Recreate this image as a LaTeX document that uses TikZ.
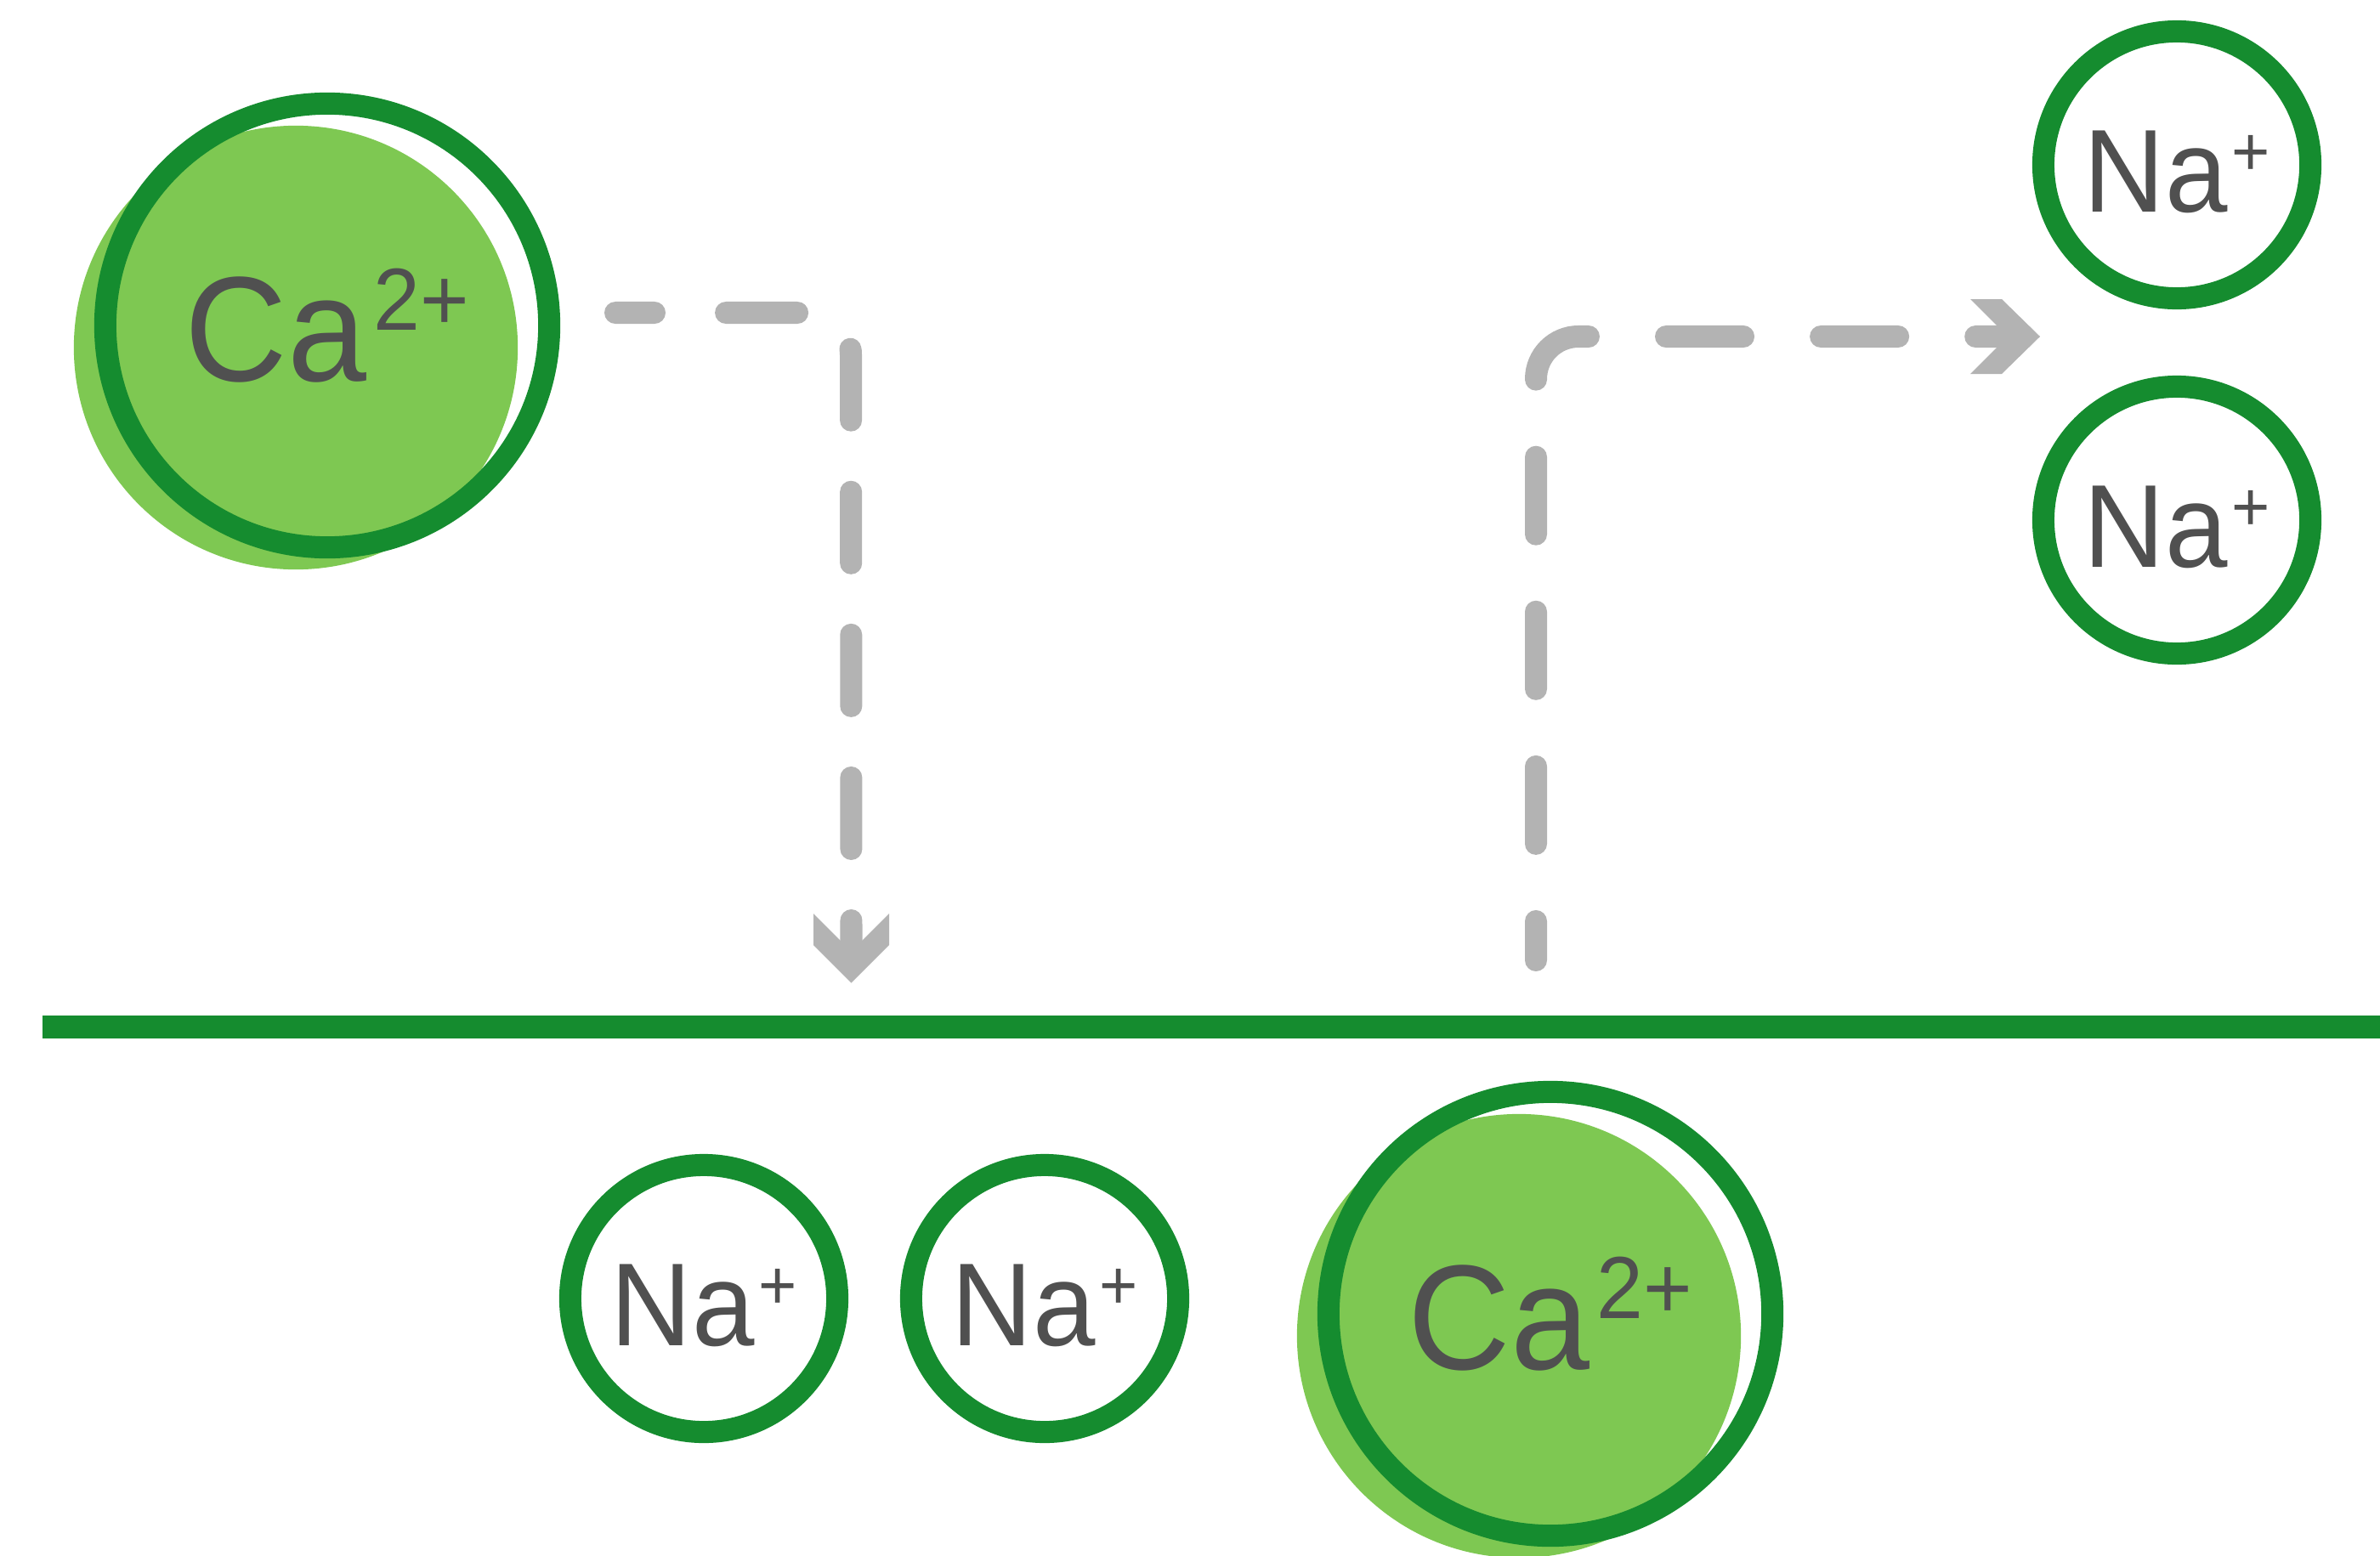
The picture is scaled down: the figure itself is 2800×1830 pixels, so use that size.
\documentclass[tikz,border=0pt]{standalone}
\usepackage{fontspec}
\setmainfont{Liberation Sans}[FakeStretch=0.95]
\usetikzlibrary{calc}
\definecolor{dkgreen}{HTML}{158C2F}
\definecolor{ltgreen}{HTML}{7EC852}
\definecolor{dashgray}{HTML}{B3B3B3}
\definecolor{txtgray}{HTML}{505050}
\newcommand{\CaTxt}{{\fontsize{50pt}{60pt}\selectfont Ca\kern2.4pt\raisebox{17pt}{\fontsize{29.5pt}{35pt}\selectfont 2+}}}
\newcommand{\NaTxt}{{\fontsize{39.5pt}{47pt}\selectfont \rule{0pt}{32pt}Na\kern1.3pt\smash{\raisebox{12.2pt}{\fontsize{23.2pt}{28pt}\selectfont +}}}}
\tikzset{
  nabox/.style={circle, draw=dkgreen, line width=0.26cm, minimum size=3.14cm, inner sep=0pt, text=txtgray},
  cabox/.style={circle, draw=dkgreen, line width=0.26cm, minimum size=5.22cm, inner sep=0pt, text=txtgray},
  cafill/.style={circle, fill=ltgreen, minimum size=5.22cm, inner sep=0pt},
  flowline/.style={draw=dashgray, line width=0.26cm, line cap=round, rounded corners=0.5cm},
  chevron/.style={fill=dashgray},
  membrane/.style={draw=dkgreen, line width=0.267cm}
}
\begin{document}
\begin{tikzpicture}[x=0.01cm,y=-0.01cm]
\useasboundingbox (0,0) rectangle (2800,1830);
% membrane
\coordinate (mL) at (50,1208.5);
\coordinate (mR) at (2800,1208.5);
\draw[membrane] (mL) -- (mR);
% calcium ions
\node[cafill] (ca1bg) at (348,409) {};
\node[cabox] (ca1) at (385,383) {\CaTxt};
\node[cafill] (ca2bg) at (1787,1572) {};
\node[cabox] (ca2) at (1824,1546) {\CaTxt};
% sodium ions
\node[nabox] (na1) at (2561,194) {\NaTxt};
\node[nabox] (na2) at (2561,612) {\NaTxt};
\node[nabox] (na3) at (828,1528) {\NaTxt};
\node[nabox] (na4) at (1229,1528) {\NaTxt};
% flow 1: Ca from top-left down through the membrane
\coordinate (f1s) at (724,368);
\coordinate (f1c) at (1001,368);
\coordinate (f1e) at (1001.5,1120);
\draw[flowline, dash pattern=on 0.84cm off 0.84cm, dash phase=0.38cm] (f1s) -- (f1c) -- (f1e);
\fill[chevron] (957,1075) -- (1001.5,1119.5) -- (1046,1075) -- (1046,1112) -- (1001.5,1156.5) -- (957,1112) -- cycle;
% flow 2: Na from membrane up and to the right
\coordinate (f2s) at (1807,1130);
\coordinate (f2c) at (1807,396);
\coordinate (f2e) at (2362,396);
\draw[flowline, dash pattern=on 0.91cm off 0.91cm, dash phase=0.45cm] (f2s) -- (f2c) -- (f2e);
\fill[chevron] (2318,352) -- (2362,396) -- (2318,440) -- (2355,440) -- (2400,396) -- (2355,352) -- cycle;
\end{tikzpicture}
\end{document}
